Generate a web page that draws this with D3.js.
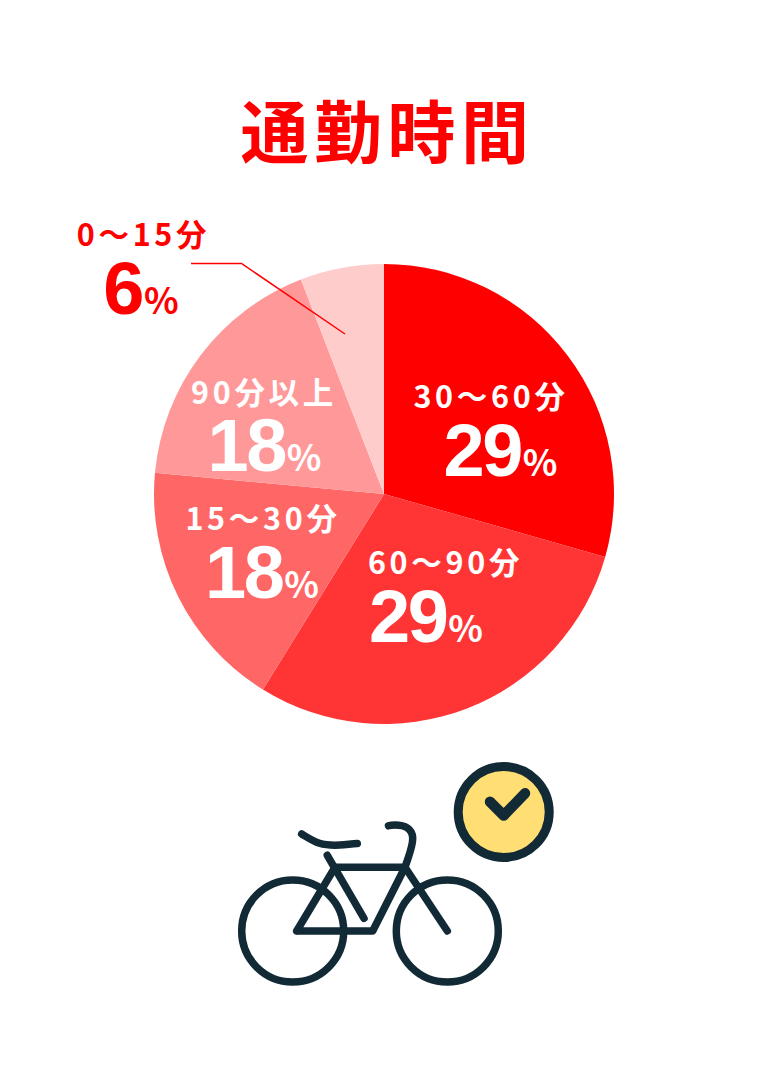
<!DOCTYPE html>
<html lang="ja">
<head>
<meta charset="utf-8">
<title>通勤時間</title>
<script src="https://cdn.jsdelivr.net/npm/d3@7/dist/d3.min.js"></script>
<style>
html, body { margin: 0; padding: 0; background: #fff; }
svg { display: block; }
.jp { font-family: "Noto Sans CJK JP", "Noto Sans", sans-serif; font-weight: 700; }
.num { font-family: "Liberation Sans", Arial, sans-serif; font-weight: 700; }
</style>
</head>
<body>
<svg id="chart" width="768" height="1072"></svg>
<script>
// Commute time survey: respondent counts, clockwise from twelve o'clock
const categories = ["30〜60分", "60〜90分", "15〜30分", "90分以上", "0〜15分"];
const counts = [5, 5, 3, 3, 1];
const sliceColors = ["#ff0000", "#ff3535", "#ff6666", "#ff9999", "#ffcccc"];
const labelColors = ["#fff", "#fff", "#fff", "#fff", "#ff0000"];
// Text anchors in page space: category x and baseline, value x and baseline
const labelAnchors = [
  [491, 408, 500.5, 476],
  [445.5, 574, 426, 642],
  [263, 529.5, 262, 598],
  [264, 403.5, 264.5, 470.5],
  [143.5, 245.5, 141, 314]
];

const svg = d3.select("#chart");
const cx = 384, cy = 494, radius = 230;
const ink = "#122a36";
const total = d3.sum(counts);

svg.append("text").attr("class", "jp")
  .attr("x", 387.5).attr("y", 158)
  .attr("text-anchor", "middle")
  .attr("font-size", 68).attr("letter-spacing", 5.5)
  .attr("fill", "#ff0000").text("通勤時間");

const pie = d3.pie().sort(null).value(d => d)(counts);
const arc = d3.arc().innerRadius(0).outerRadius(radius);

svg.append("g").attr("transform", `translate(${cx},${cy})`)
  .selectAll("path").data(pie).join("path")
  .attr("d", arc)
  .attr("fill", (d, i) => sliceColors[i]);

// Leader line tying the smallest slice to its outside label
svg.append("path")
  .attr("d", "M191 263.5H241.5L345 334")
  .attr("fill", "none").attr("stroke", "#ff0000").attr("stroke-width", 1.5);

categories.forEach((name, i) => {
  const [xName, yName, xValue, yValue] = labelAnchors[i];
  const g = svg.append("g").attr("fill", labelColors[i]);
  g.append("text").attr("class", "jp")
    .attr("x", xName).attr("y", yName).attr("text-anchor", "middle")
    .attr("font-size", 30.5).attr("letter-spacing", 3.7)
    .text(name);
  const t = g.append("text").attr("x", xValue).attr("y", yValue).attr("text-anchor", "middle");
  t.append("tspan").attr("class", "num").attr("font-size", 74).attr("letter-spacing", -2.5)
    .text(Math.round(counts[i] / total * 100));
  t.append("tspan").attr("class", "jp").attr("font-size", 36).attr("font-weight", 500).attr("dx", 2).text("%");
});

// Bicycle icon
const bike = svg.append("g")
  .attr("fill", "none").attr("stroke", ink).attr("stroke-width", 7.5)
  .attr("stroke-linecap", "round").attr("stroke-linejoin", "round");
[292.7, 447.3].forEach(x => bike.append("circle").attr("cx", x).attr("cy", 931).attr("r", 51));
[
  "M296.7 931H372.7L405 867.3H335L296.7 931",
  "M327.3 855.3L364 918.3",
  "M405 867.3L447.3 931",
  "M405 867.3C409 855 413 846 412.7 838C412.5 829 405 825 395 825C392 825 390 825.3 388.5 825.8",
  "M301.7 834C315 842 320 846 340 845C345 845 350 844 357.3 843.5"
].forEach(d => bike.append("path").attr("d", d));

// Clock badge with a check mark
svg.append("circle").attr("cx", 503.7).attr("cy", 812).attr("r", 45.5)
  .attr("fill", "#ffdf74").attr("stroke", ink).attr("stroke-width", 9);
svg.append("path").attr("d", "M490 801.7L503.7 815.5L525 793.3")
  .attr("fill", "none").attr("stroke", ink).attr("stroke-width", 10.5)
  .attr("stroke-linecap", "round").attr("stroke-linejoin", "round");
</script>
</body>
</html>
